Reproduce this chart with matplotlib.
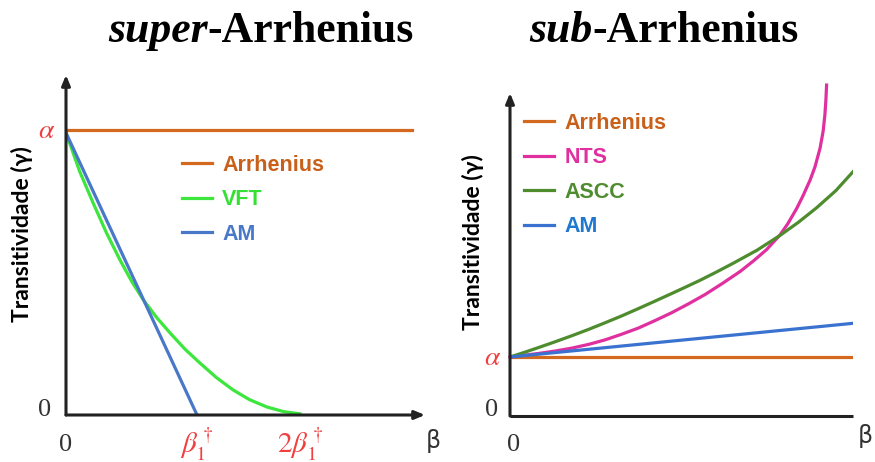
import numpy as np
import matplotlib
matplotlib.use('Agg')
import matplotlib.pyplot as plt

plt.rcParams['mathtext.fontset'] = 'stix'

# ---- super-Arrhenius panel (x in units of beta1, y in units of alpha)
sup_arr_x = [0.0, 2.64]
sup_arr_y = [1.0, 1.0]
sup_vft_x = [0.0, 0.104, 0.208, 0.31, 0.412, 0.501, 0.590, 0.692, 0.794, 0.908,
             1.023, 1.149, 1.275, 1.40, 1.534, 1.66, 1.786]
sup_vft_y = [0.99, 0.855, 0.743, 0.638, 0.544, 0.469, 0.404, 0.342, 0.288, 0.231,
             0.182, 0.131, 0.088, 0.054, 0.028, 0.012, 0.004]
sup_am_x = [0.0, 1.0]
sup_am_y = [0.99, 0.0]
sup_xticks = [0.0, 1.0, 1.786]
sup_xlabels = ['0', r'$\beta_1^\dagger$', r'$2\beta_1^\dagger$']

# ---- sub-Arrhenius panel
sub_arr_x = [0.0, 1.0]
sub_arr_y = [1.0, 1.0]
sub_nts_x = [0.0, 0.083, 0.13, 0.18, 0.23, 0.277, 0.325, 0.374, 0.42, 0.471, 0.52,
             0.569, 0.62, 0.671, 0.71, 0.748, 0.787, 0.81, 0.836, 0.854, 0.875,
             0.889, 0.904, 0.913, 0.918, 0.921, 0.923]
sub_nts_y = [1.0, 1.06, 1.10, 1.15, 1.215, 1.29, 1.385, 1.49, 1.61, 1.75, 1.90,
             2.06, 2.25, 2.45, 2.63, 2.82, 3.068, 3.26, 3.52, 3.73, 4.0,
             4.22, 4.54, 4.83, 5.10, 5.36, 5.61]
sub_ascc_x = [0.0, 0.04, 0.083, 0.13, 0.18, 0.23, 0.277, 0.325, 0.374, 0.42, 0.471,
              0.51, 0.554, 0.60, 0.651, 0.72, 0.787, 0.84, 0.894, 0.95, 1.0]
sub_ascc_y = [1.0, 1.075, 1.16, 1.255, 1.36, 1.47, 1.58, 1.695, 1.82, 1.94, 2.075,
              2.18, 2.30, 2.435, 2.59, 2.81, 3.06, 3.28, 3.53, 3.82, 4.14]
sub_am_x = [0.0, 1.0]
sub_am_y = [1.0, 1.571]

c_arr = '#d2691e'
c_vft = '#3ce63c'
c_am = '#4a78c8'
c_nts = '#e0309f'
c_ascc = '#4e8c2e'
c_am2 = '#3a72d0'
red = '#f04040'

fig = plt.figure(figsize=(8.75, 4.62), dpi=100)

def axes_frame(ax, xmax, ymax, xarrow=True):
    ax.set_xlim(0, xmax)
    ax.set_ylim(0, ymax)
    ax.set_xticks([])
    ax.set_yticks([])
    for s in ax.spines.values():
        s.set_visible(False)
    ax.patch.set_alpha(0)
    ax.annotate('', xy=(0, 1), xytext=(0, 0), xycoords='axes fraction',
                arrowprops=dict(arrowstyle='-|>,head_width=0.25,head_length=0.6',
                                color='#222222', lw=2.2, shrinkA=0, shrinkB=0))
    if xarrow:
        ax.annotate('', xy=(1, 0), xytext=(0, 0), xycoords='axes fraction',
                    arrowprops=dict(arrowstyle='-|>,head_width=0.25,head_length=0.6',
                                    color='#222222', lw=2.2, shrinkA=0, shrinkB=0))
    else:
        ax.plot([0, 1], [0, 0], color='#222222', lw=2.2, transform=ax.transAxes,
                clip_on=False, solid_capstyle='butt')

lw = 2.3
leg_font = dict(family='Liberation Sans', weight='bold', size=15.5)
leg_kw = dict(frameon=False, prop=leg_font, handlelength=1.4, handletextpad=0.47,
              labelspacing=0.62, borderpad=0, borderaxespad=0)

# left panel
ax1 = fig.add_axes([66/875, 47/462, 359/875, 340/462])
axes_frame(ax1, 2.740, 1.193)
ax1.plot(sup_arr_x, sup_arr_y, color=c_arr, lw=lw, label='Arrhenius')
ax1.plot(sup_vft_x, sup_vft_y, color=c_vft, lw=lw, label='VFT')
ax1.plot(sup_am_x, sup_am_y, color=c_am, lw=lw, label='AM')
for xv, lab in zip(sup_xticks, sup_xlabels):
    if lab == '0':
        ax1.text(xv, -0.126, lab, ha='center', va='baseline', fontsize=19,
                 color='#333333', family='Liberation Serif')
    else:
        ax1.text(xv, -0.133, lab, ha='center', va='baseline', fontsize=21, color=red)
ax1.text(2.80, -0.116, 'β', ha='center', va='baseline', fontsize=17, color='#333333')
ax1.text(-0.16, 0.018, '0', ha='center', va='center', fontsize=19, color='#333333',
         family='Liberation Serif')
ax1.text(-0.145, 1.0, r'$\alpha$', ha='center', va='center', fontsize=20, color=red)
ax1.legend(loc='upper left', bbox_to_anchor=(182/875, 1 - 155/462),
           bbox_transform=fig.transFigure,
           labelcolor=['#c8601a', '#33e033', '#4a78c8'], **leg_kw)

# right panel
ax2 = fig.add_axes([510/875, 46/462, 343/875, 323/462])
axes_frame(ax2, 1.0, 5.475, xarrow=False)
ax2.plot(sub_arr_x, sub_arr_y, color=c_arr, lw=lw, label='Arrhenius')
ax2.plot(sub_nts_x, sub_nts_y, color=c_nts, lw=lw, label='NTS', clip_on=False)
ax2.plot(sub_ascc_x, sub_ascc_y, color=c_ascc, lw=lw, label='ASCC')
ax2.plot(sub_am_x, sub_am_y, color=c_am2, lw=lw, label='AM')
ax2.text(0.01, -0.593, '0', ha='center', va='baseline', fontsize=19, color='#333333',
         family='Liberation Serif')
ax2.text(-0.055, 0.10, '0', ha='center', va='center', fontsize=19, color='#333333',
         family='Liberation Serif')
ax2.text(-0.05, 1.0, r'$\alpha$', ha='center', va='center', fontsize=20, color=red)
ax2.text(1.015, -0.45, 'β', ha='left', va='baseline', fontsize=17, color='#333333')
ax2.legend(loc='upper left', bbox_to_anchor=(524/875, 1 - 113/462),
           bbox_transform=fig.transFigure,
           labelcolor=['#c8601a', '#e0309f', '#4e8c2e', '#1f78d0'], **leg_kw)

# y labels
for xl, yl in [(22, 234), (473, 242)]:
    fig.text(xl/875, 1 - yl/462, 'Transitividade (γ)', rotation=90, ha='center',
             va='center', fontsize=16.5, weight='bold', family='Lato')

# titles: italic prefix + bold rest, centred together
renderer = fig.canvas.get_renderer()
for pre, cx in [('super', 261), ('sub', 664)]:
    t1 = fig.text(0, 1 - 31/462, pre, fontsize=31.5, weight='bold', style='italic',
                  family='Liberation Serif', va='center', ha='left')
    t2 = fig.text(0, 1 - 31/462, '-Arrhenius', fontsize=31.5, weight='bold',
                  family='Liberation Serif', va='center', ha='left')
    w1 = t1.get_window_extent(renderer).width
    w2 = t2.get_window_extent(renderer).width
    x0 = cx - (w1 + w2) / 2
    t1.set_x(x0 / 875)
    t2.set_x((x0 + w1) / 875)

fig.savefig('out.png', dpi=100)
